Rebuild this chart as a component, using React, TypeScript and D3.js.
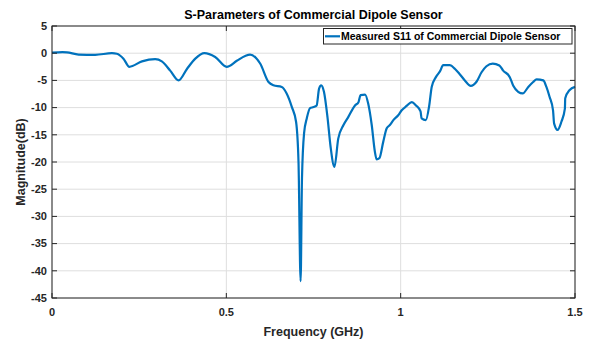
import { useMemo } from "react";
import * as d3 from "d3";

// (GHz, dB)
const freqGHz = [
  0.0, 0.03, 0.043, 0.076, 0.124, 0.172, 0.186, 0.205, 0.222, 0.258, 0.296, 0.315,
  0.339, 0.363, 0.387, 0.411, 0.437, 0.468, 0.501, 0.53, 0.554, 0.568, 0.597, 0.621,
  0.635, 0.659, 0.673, 0.688, 0.7, 0.707, 0.713, 0.717, 0.723, 0.731, 0.74, 0.75,
  0.759, 0.766, 0.772, 0.78, 0.79, 0.799, 0.81, 0.821, 0.836, 0.85, 0.869, 0.879,
  0.885, 0.898, 0.907, 0.917, 0.926, 0.931, 0.939, 0.95, 0.96, 0.969, 0.979, 0.993,
  1.003, 1.017, 1.032, 1.044, 1.057, 1.06, 1.072, 1.082, 1.089, 1.101, 1.113, 1.122,
  1.141, 1.156, 1.17, 1.184, 1.201, 1.218, 1.232, 1.246, 1.264, 1.283, 1.294, 1.313,
  1.323, 1.337, 1.35, 1.366, 1.38, 1.39, 1.409, 1.418, 1.427, 1.437, 1.44, 1.45,
  1.461, 1.471, 1.472, 1.484, 1.5,
];
const s11dB = [
  0.1, 0.2, 0.15, -0.25, -0.3, 0.0, -0.1, -1.0, -2.5, -1.5, -1.1, -1.5,
  -3.2, -5.0, -2.9, -1.0, 0.0, -0.7, -2.5, -1.4, -0.5, -0.25, -1.9, -5.3,
  -5.9, -6.2, -7.4, -9.9, -12.6, -20, -41.9, -23, -14.7, -11.9, -10.1, -9.9,
  -9.6, -6.5, -5.9, -7.1, -11.7, -17.2, -20.9, -15.7, -13.2, -11.7, -9.6, -9.0,
  -7.7, -7.6, -9.3, -13.2, -18.1, -19.5, -19.3, -16.3, -13.8, -13.2, -12.3, -11.4,
  -10.5, -9.7, -9.0, -9.6, -10.7, -12.0, -12.3, -9.6, -6.2, -4.4, -3.3, -2.2,
  -2.2, -2.9, -3.9, -5.0, -6.0, -5.2, -3.5, -2.4, -1.9, -2.25, -3.2, -4.4,
  -6.0, -7.1, -7.4, -6.2, -5.3, -4.8, -5.0, -6.2, -8.0, -10.5, -12.9, -14.1,
  -12.6, -10.2, -8.3, -6.8, -6.2,
];
const xTicks = [0, 0.5, 1, 1.5];
const yTicks = [5, 0, -5, -10, -15, -20, -25, -30, -35, -40, -45];

const W = 597;
const H = 342;
const m = { top: 26, right: 22, bottom: 44, left: 52 };
const axisColor = "#262626";
const font = "'Liberation Sans', Arial, Helvetica, sans-serif";

export default function App() {
  const x = d3.scaleLinear().domain([0, 1.5]).range([m.left, W - m.right]);
  const y = d3.scaleLinear().domain([-45, 5]).range([H - m.bottom, m.top]);

  const path = useMemo(() => {
    const pts = freqGHz.map((f, i) => [f, s11dB[i]] as [number, number]);
    return d3
      .line<[number, number]>()
      .x((d) => x(d[0]))
      .y((d) => y(d[1]))
      .curve(d3.curveMonotoneX)(pts);
  }, []);

  const x0 = m.left, x1 = W - m.right, y0 = m.top, y1 = H - m.bottom;
  const tk = 5;

  return (
    <>
      <style>{`body{margin:0}`}</style>
      <svg width={W} height={H} style={{ display: "block", background: "#fff" }} fontFamily={font}>
        {/* grid */}
        {xTicks.map((t) => (
          <line key={"gx" + t} x1={x(t)} x2={x(t)} y1={y0} y2={y1} stroke="#dedede" strokeWidth={1} />
        ))}
        {yTicks.map((t) => (
          <line key={"gy" + t} x1={x0} x2={x1} y1={y(t)} y2={y(t)} stroke="#dedede" strokeWidth={1} />
        ))}

        <path d={path ?? ""} fill="none" stroke="#0072BD" strokeWidth={2.2} strokeLinejoin="round" />

        {/* box + ticks */}
        <rect x={x0} y={y0} width={x1 - x0} height={y1 - y0} fill="none" stroke={axisColor} strokeWidth={1} />
        {xTicks.map((t) => (
          <g key={"tx" + t}>
            <line x1={x(t)} x2={x(t)} y1={y1} y2={y1 - tk} stroke={axisColor} />
            <line x1={x(t)} x2={x(t)} y1={y0} y2={y0 + tk} stroke={axisColor} />
            <text x={x(t)} y={y1 + 18} textAnchor="middle" fontSize={11} fontWeight="bold" fill={axisColor}>
              {t}
            </text>
          </g>
        ))}
        {yTicks.map((t) => (
          <g key={"ty" + t}>
            <line x1={x0} x2={x0 + tk} y1={y(t)} y2={y(t)} stroke={axisColor} />
            <line x1={x1} x2={x1 - tk} y1={y(t)} y2={y(t)} stroke={axisColor} />
            <text x={x0 - 5} y={y(t)} dy="0.35em" textAnchor="end" fontSize={11} fontWeight="bold" fill={axisColor}>
              {t}
            </text>
          </g>
        ))}

        {/* title & labels */}
        <text x={(x0 + x1) / 2} y={19} textAnchor="middle" fontSize={12.5} fontWeight="bold" fill="#000">
          S-Parameters of Commercial Dipole Sensor
        </text>
        <text x={(x0 + x1) / 2} y={H - 6} textAnchor="middle" fontSize={12.5} fontWeight="bold" fill={axisColor}>
          Frequency (GHz)
        </text>
        <text
          transform={`translate(${25},${(y0 + y1) / 2}) rotate(-90)`}
          textAnchor="middle"
          fontSize={12.5}
          fontWeight="bold"
          fill={axisColor}
        >
          Magnitude(dB)
        </text>

        {/* legend */}
        <g>
          <rect x={323.5} y={28.5} width={248.5} height={15.5} fill="#fff" stroke={axisColor} strokeWidth={1} />
          <line x1={325} x2={340} y1={36.3} y2={36.3} stroke="#0072BD" strokeWidth={2.2} />
          <text x={341} y={36.3} dy="0.35em" fontSize={10.5} fontWeight="bold" fill="#000">
            Measured S11 of Commercial Dipole Sensor
          </text>
        </g>
      </svg>
    </>
  );
}
